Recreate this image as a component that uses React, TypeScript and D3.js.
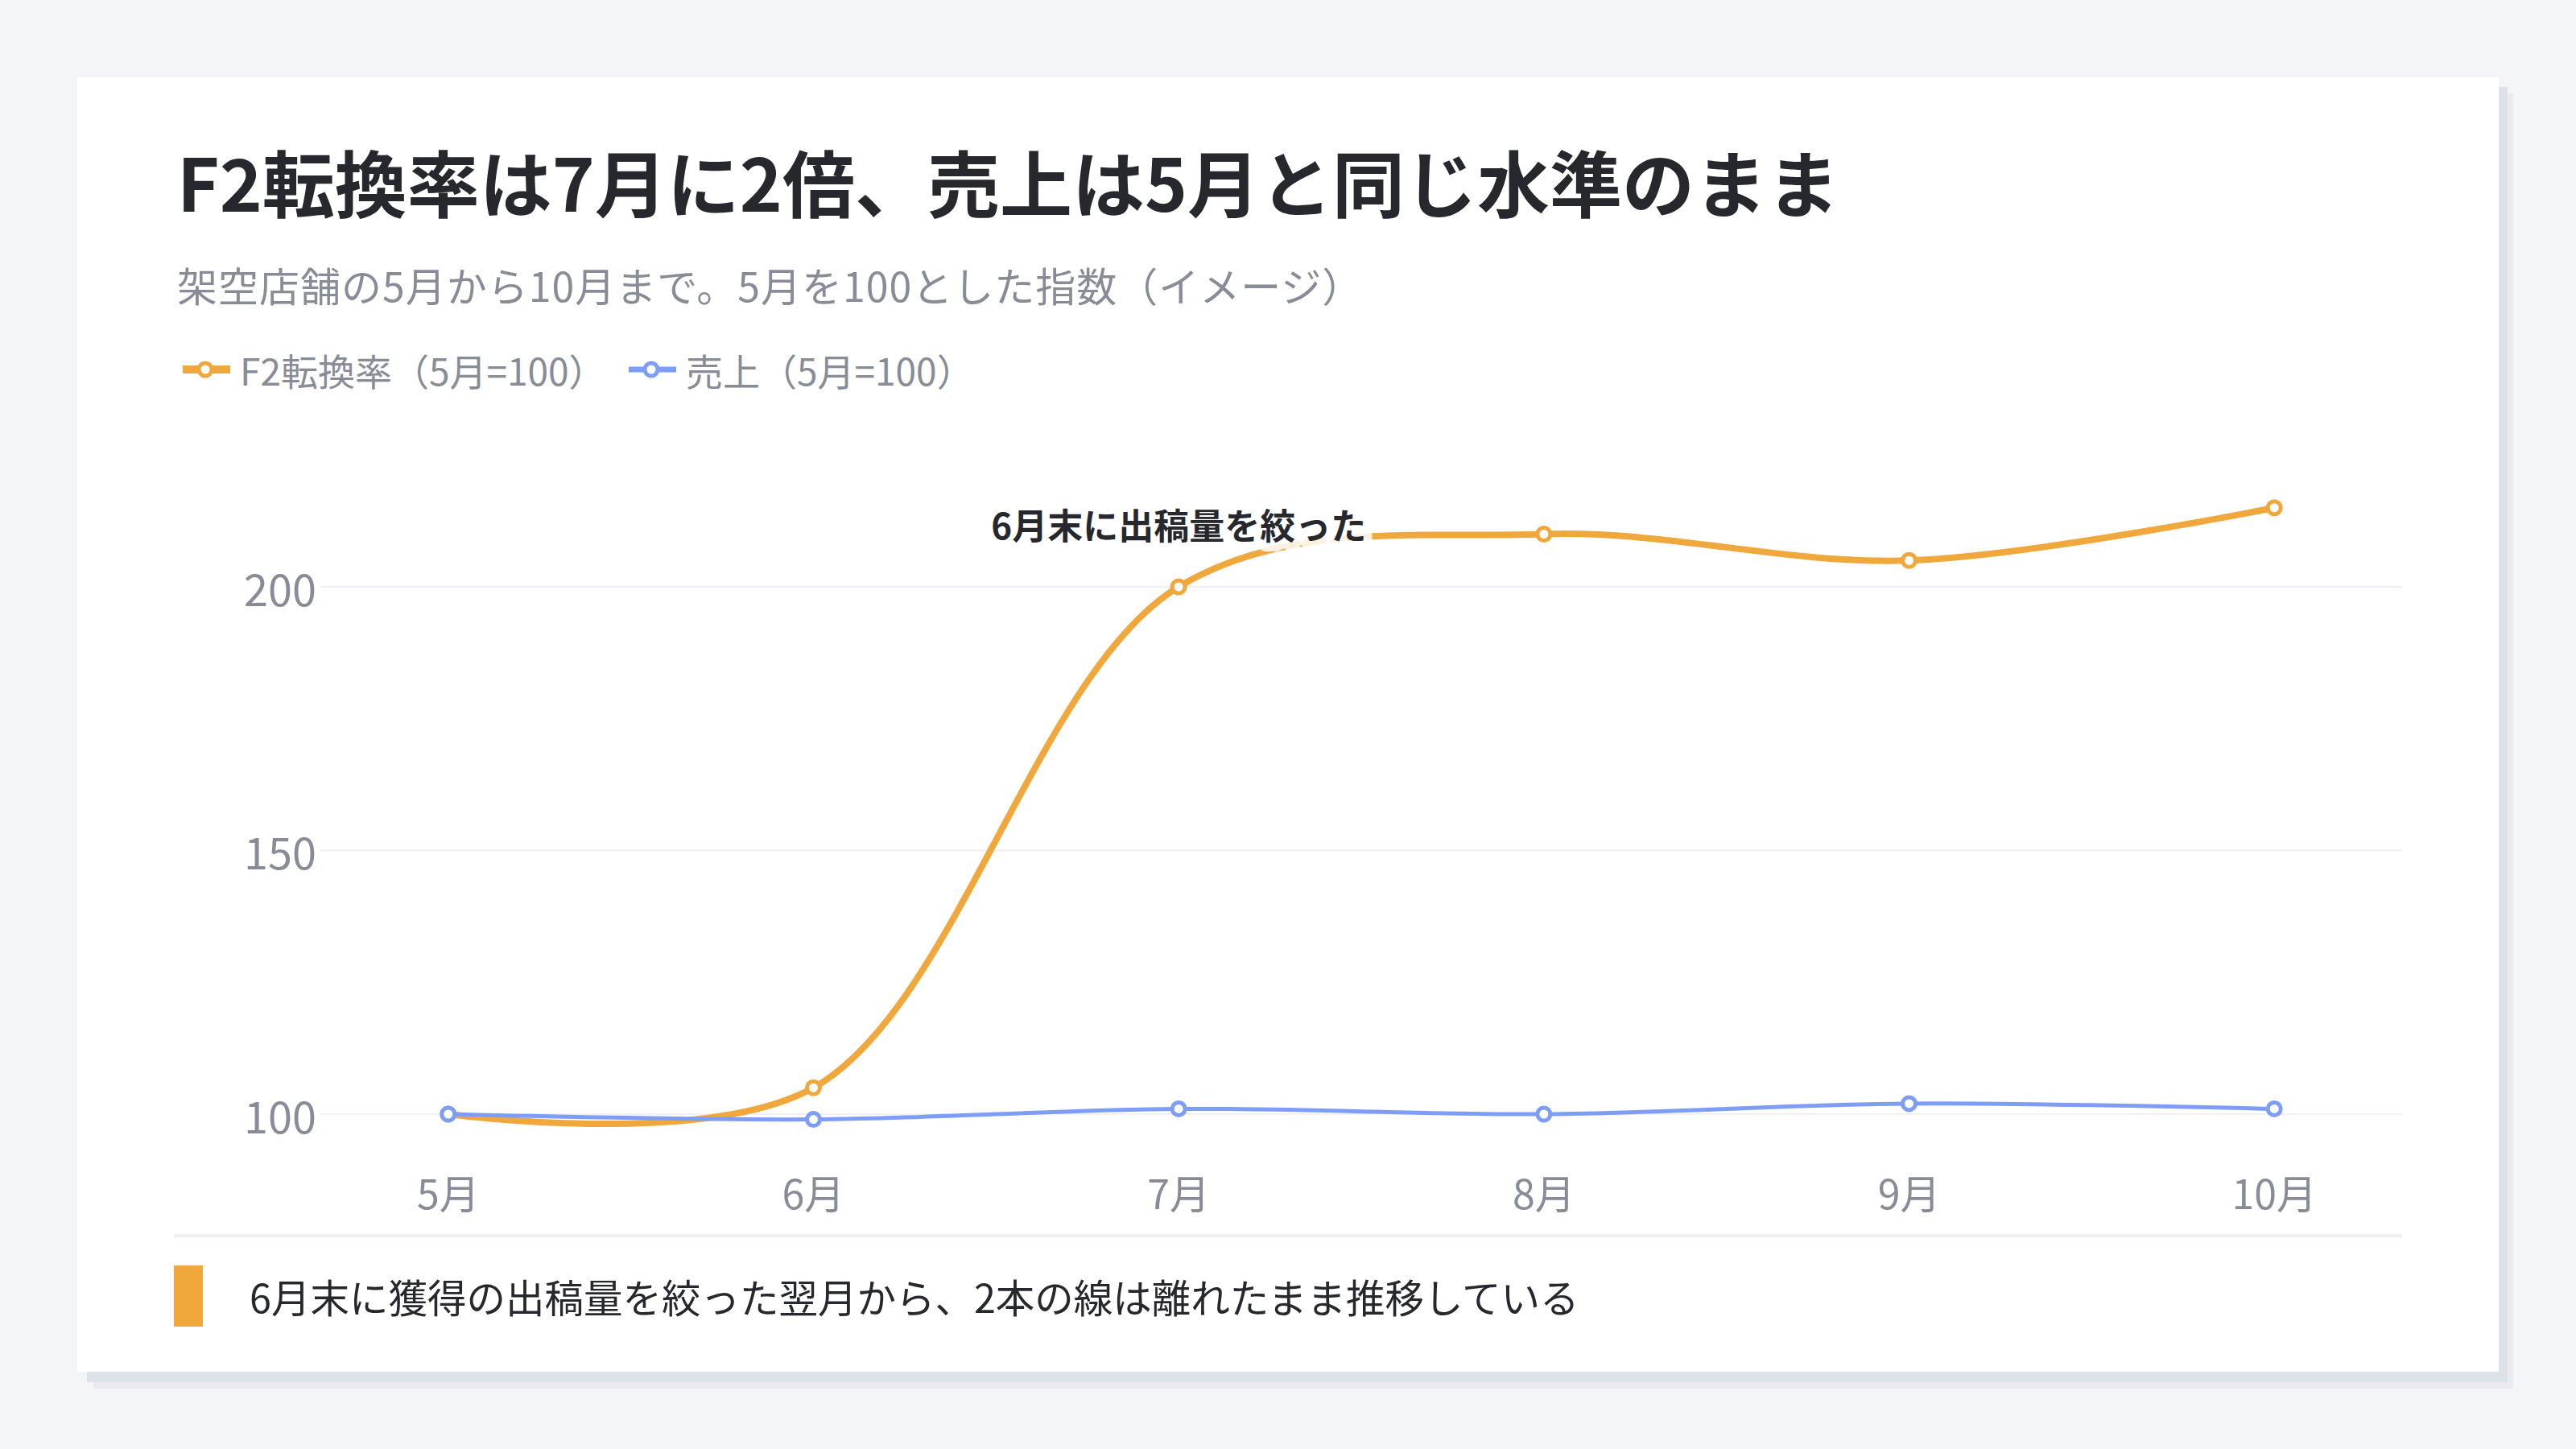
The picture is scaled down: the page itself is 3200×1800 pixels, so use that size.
import React from "react";
import * as d3 from "d3";

const months = ["5月", "6月", "7月", "8月", "9月", "10月"];
const f2Rate = [100, 105, 200, 210, 205, 215];
const sales = [100, 99, 101, 100, 102, 101];
const yTicks = [100, 150, 200];
const seriesNames = ["F2転換率（5月=100）", "売上（5月=100）"];
const titleText = "F2転換率は7月に2倍、売上は5月と同じ水準のまま";
const subtitleText = "架空店舗の5月から10月まで。5月を100とした指数（イメージ）";
const annotationText = "6月末に出稿量を絞った";
const annotationMonth = "7月";
const footerText = "6月末に獲得の出稿量を絞った翌月から、2本の線は離れたまま推移している";

const ORANGE = "#f0a73c";
const BLUE = "#7e9df6";
const GRAY = "#878c96";
const DARK = "#26282d";
const FONT = "'Noto Sans CJK JP', 'Noto Sans', sans-serif";

export default function App() {
  const W = 3200;
  const H = 1800;
  const plotLeft = 398;
  const plotRight = 2984;

  const x = d3.scalePoint<string>().domain(months).range([plotLeft, plotRight]).padding(0.35);
  const y = d3.scaleLinear().domain([100, 200]).range([1384, 729]);

  const line = d3
    .line<number>()
    .x((_, i) => x(months[i]) as number)
    .y((d) => y(d))
    .curve(d3.curveCatmullRom.alpha(0.5));

  const series = [
    { name: seriesNames[0], values: f2Rate, color: ORANGE, width: 8, legendWidth: 10 },
    { name: seriesNames[1], values: sales, color: BLUE, width: 5, legendWidth: 7 },
  ];

  const legendItems = [
    { x: 227, textX: 298 },
    { x: 781, textX: 852 },
  ];

  const annIdx = months.indexOf(annotationMonth);

  return (
    <div style={{ position: "fixed", left: 0, top: 0, width: W, height: H }}>
      <svg width={W} height={H} viewBox={`0 0 ${W} ${H}`} style={{ display: "block", fontFamily: FONT }}>
        <rect x={0} y={0} width={W} height={H} fill="#f4f5f9" />
        <rect x={116} y={116} width={3006} height={1609} fill="#e9ebef" />
        <rect x={108} y={108} width={3007} height={1609} fill="#dde1e8" />
        <rect x={96} y={96} width={3008} height={1608} fill="#ffffff" />

        <text x={220} y={224} dominantBaseline="central" fontSize={90} fontWeight={700} fill={DARK}>
          {titleText}
        </text>
        <text
          x={220}
          y={353}
          dominantBaseline="central"
          fontSize={50}
          letterSpacing={1}
          fill={GRAY}
        >
          {subtitleText}
        </text>

        {series.map((s, i) => (
          <g key={s.name}>
            <line
              x1={legendItems[i].x}
              x2={legendItems[i].x + 59}
              y1={459}
              y2={459}
              stroke={s.color}
              strokeWidth={s.legendWidth}
            />
            <circle cx={legendItems[i].x + 28} cy={459} r={8} fill="#fff" stroke={s.color} strokeWidth={5} />
            <text x={legendItems[i].textX} y={459} dominantBaseline="central" fontSize={46} fill={GRAY}>
              {s.name}
            </text>
          </g>
        ))}

        {yTicks.map((t) => (
          <g key={t}>
            <line x1={plotLeft} x2={plotRight} y1={y(t)} y2={y(t)} stroke="#eef0f3" strokeWidth={2} />
            <text
              x={393}
              y={y(t)}
              textAnchor="end"
              dominantBaseline="central"
              fontSize={54}
              fill={GRAY}
            >
              {t}
            </text>
          </g>
        ))}

        {months.map((m) => (
          <text
            key={m}
            x={x(m) as number}
            y={1480}
            textAnchor="middle"
            dominantBaseline="central"
            fontSize={50}
            fill={GRAY}
          >
            {m}
          </text>
        ))}

        {series.map((s) => (
          <g key={s.name + "-line"}>
            <path
              d={line(s.values) || ""}
              fill="none"
              stroke={s.color}
              strokeWidth={s.width}
              strokeLinejoin="round"
              strokeLinecap="round"
            />
            {s.values.map((v, i) => (
              <circle
                key={i}
                cx={x(months[i]) as number}
                cy={y(v)}
                r={8}
                fill="#fff"
                stroke={s.color}
                strokeWidth={5}
              />
            ))}
          </g>
        ))}

        <text
          x={x(annotationMonth) as number}
          y={y(f2Rate[annIdx]) - 78}
          textAnchor="middle"
          dominantBaseline="central"
          fontSize={44}
          fontWeight={700}
          fill={DARK}
          stroke="#ffffff"
          strokeOpacity={0.85}
          strokeWidth={22}
          strokeLinejoin="round"
          style={{ paintOrder: "stroke" }}
        >
          {annotationText}
        </text>

        <line x1={216} x2={2984} y1={1535} y2={1535} stroke="#eceef2" strokeWidth={4} />
        <rect x={216} y={1572} width={36} height={76} fill={ORANGE} />
        <text x={310} y={1610} dominantBaseline="central" fontSize={48.5} fill={DARK}>
          {footerText}
        </text>
      </svg>
    </div>
  );
}
